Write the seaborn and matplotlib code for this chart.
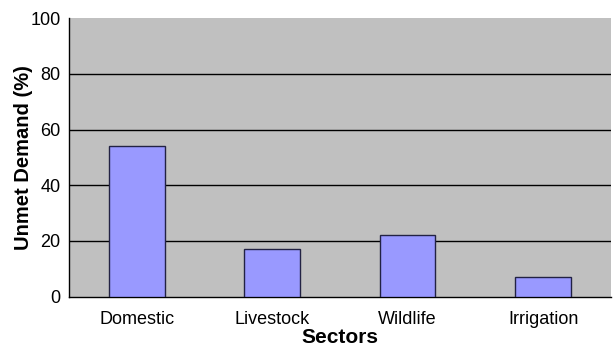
import numpy as np
import pandas as pd
import seaborn as sns
import matplotlib.pyplot as plt
from matplotlib.ticker import FixedLocator

# Data
sectors = ["Domestic", "Livestock", "Wildlife", "Irrigation"]
unmet_demand = [54, 17, 22, 7]

sns.set_style("white")
plt.rcParams['font.family'] = ['Liberation Sans', 'DejaVu Sans']
plt.rcParams.update({"text.color": "black", "axes.labelcolor": "black",
                     "xtick.color": "black", "ytick.color": "black"})

df = pd.DataFrame({"Sector": sectors, "Unmet": unmet_demand})

fig = plt.figure(figsize=(6.13, 3.48), dpi=100)
ax = fig.add_axes([0.1126, 0.1474, 0.884, 0.8006])
ax.set_facecolor("#C0C0C0")

sns.barplot(data=df, x="Sector", y="Unmet", ax=ax, color="#9999FF",
            saturation=1, edgecolor="#222244", linewidth=1, width=0.41, zorder=3)

ax.set_ylim(0, 100)
ax.set_xlim(-0.5, len(sectors) - 0.5)
ax.set_yticks(np.arange(0, 101, 20))
ax.yaxis.grid(True, color="black", linewidth=1, zorder=1)
ax.set_axisbelow(True)
gridlines = ax.get_ygridlines()
gridlines[0].set_visible(False)
gridlines[-1].set_visible(False)

# ticks at category boundaries
ax.xaxis.set_minor_locator(FixedLocator(np.arange(-0.5, len(sectors), 1.0)))
ax.tick_params(axis="x", which="major", length=0, labelsize=13, pad=10)
ax.tick_params(axis="x", which="minor", length=3.5, width=1, direction="out")
ax.tick_params(axis="y", length=3, width=1, direction="out", labelsize=13, pad=3)

for side in ["top", "right"]:
    ax.spines[side].set_visible(False)
for side in ["left", "bottom"]:
    ax.spines[side].set_color("black")
    ax.spines[side].set_linewidth(1)

ax.set_xlabel("Sectors", fontsize=15, fontweight="bold", labelpad=0.5)
ax.set_ylabel("Unmet Demand (%)", fontsize=14.5, fontweight="bold", labelpad=-2)

plt.savefig("out.png", dpi=100)
